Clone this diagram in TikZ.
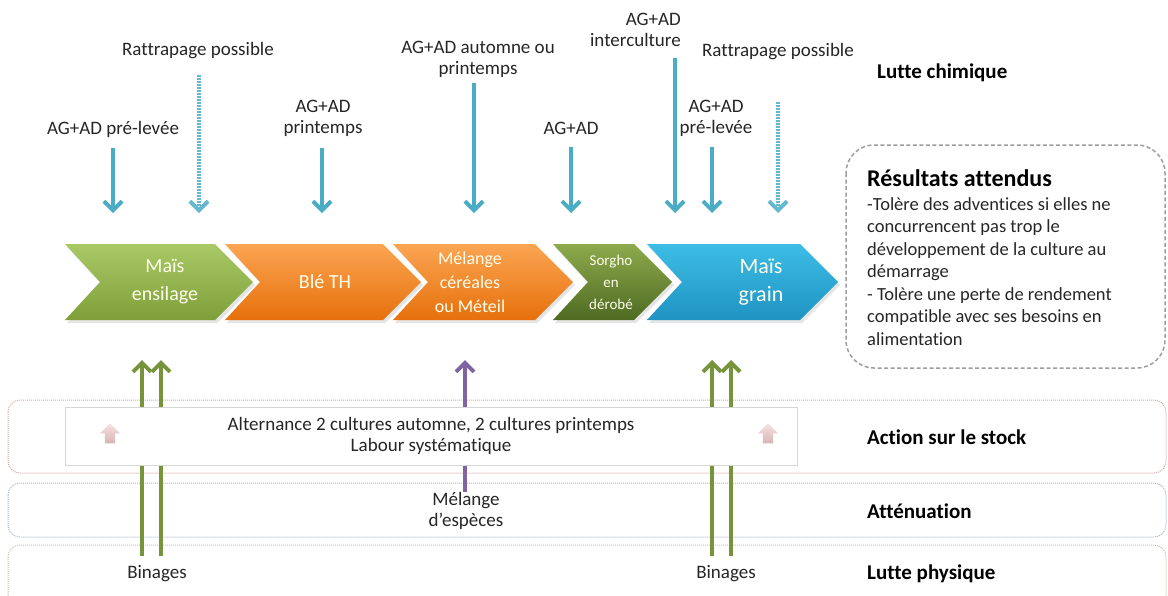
\documentclass[tikz,border=0pt]{standalone}
\usepackage{fontspec}
\setmainfont{Carlito}[RawFeature={-liga}]
\usetikzlibrary{arrows.meta,shapes.arrows}
\definecolor{bl}{HTML}{4BACC6}
\definecolor{gr}{HTML}{77933C}
\definecolor{pu}{HTML}{8064A2}
\definecolor{txt}{HTML}{262626}
\definecolor{pkA}{HTML}{F6E2E2}
\definecolor{pkB}{HTML}{D8B4B4}
\definecolor{row1}{HTML}{D6A9A9}
\definecolor{row2}{HTML}{A9B7CF}
\definecolor{row3}{HTML}{C6C6B2}
\definecolor{gA}{HTML}{A9C966}
\definecolor{gB}{HTML}{7E9F3A}
\definecolor{oA}{HTML}{FBA552}
\definecolor{oB}{HTML}{E6700C}
\definecolor{sA}{HTML}{8EAA4C}
\definecolor{sB}{HTML}{4E6A22}
\definecolor{bA}{HTML}{3DBDE6}
\definecolor{bB}{HTML}{1F93C2}
\begin{document}
\begin{tikzpicture}[x=1pt,y=-1pt,
  lbl/.style={font=\fontsize{19}{21}\selectfont, text=txt, align=center, inner sep=0pt},
  cht/.style={text=white!93!yellow, align=center, inner sep=0pt},
  hd/.style={font=\bfseries\fontsize{21}{24}\selectfont, text=black, anchor=west, inner sep=0pt},
  blarr/.style={draw=bl, line width=4pt, -{Straight Barb[length=9pt,width=18pt]}},
  bldash/.style={blarr, draw=bl!85, dash pattern=on 2pt off 1pt},
  grarr/.style={draw=gr, line width=4pt, -{Straight Barb[length=9pt,width=18pt]}},
  puarr/.style={grarr, draw=pu},
  rowbox/.style={line width=1pt, dash pattern=on 1pt off 1pt, rounded corners=12pt},
  chev/.style 2 args={insert path={(#1,244) -- (#2,244) -- ++(38,38) -- (#2,320) -- (#1,320) -- ++(35,-38) -- cycle}},
  pink/.style={single arrow, shape border rotate=90, top color=pkA, bottom color=pkB, draw=none,
    minimum height=20pt, minimum width=20pt, single arrow head extend=2pt, inner sep=2pt}
]
\useasboundingbox (0,0) rectangle (1168,595);
\fill[white] (0,0) rectangle (1168,595);

% ---- row boxes
\draw[rowbox, draw=row1] (8,400) rectangle (1166,473);
\draw[rowbox, draw=row2] (8,483) rectangle (1166,537);
\draw[rowbox, draw=row3] (8,545) rectangle (1166,625);

% ---- top labels and blue arrows
\node[lbl] (l1) at (113,129) {AG+AD pré-levée};
\node[lbl] (l2) at (198,51) {Rattrapage possible};
\node[lbl] (l3) at (323,118) {AG+AD\\printemps};
\node[lbl] (l4) at (478,59) {AG+AD automne ou\\printemps};
\node[lbl] (l5) at (571,128) {AG+AD};
\node[lbl, align=right, anchor=east] (l6) at (681,30) {AG+AD\\interculture};
\node[lbl] (l7) at (716,118) {AG+AD\\pré-levée};
\node[lbl] (l8) at (778,52) {Rattrapage possible};

\coordinate (s1) at (113,148); \coordinate (e1) at (113,213);
\coordinate (s2) at (199,75);  \coordinate (e2) at (199,213);
\coordinate (s3) at (322,148); \coordinate (e3) at (322,213);
\coordinate (s4) at (474,83);  \coordinate (e4) at (474,213);
\coordinate (s5) at (571,147); \coordinate (e5) at (571,213);
\coordinate (s6) at (675,58);  \coordinate (e6) at (675,213);
\coordinate (s7) at (712,147); \coordinate (e7) at (712,213);
\coordinate (s8) at (778,102); \coordinate (e8) at (778,213);
\draw[blarr] (s1) -- (e1);
\draw[bldash] (s2) -- (e2);
\draw[blarr] (s3) -- (e3);
\draw[blarr] (s4) -- (e4);
\draw[blarr] (s5) -- (e5);
\draw[blarr] (s6) -- (e6);
\draw[blarr] (s7) -- (e7);
\draw[bldash] (s8) -- (e8);

% ---- chevrons
\foreach \a/\b in {65/215,225/383,393/535,553/634,647/800}{
  \fill[black!10, shift={(2,3)}, chev={\a}{\b}];
}
\shade[top color=gA, bottom color=gB, chev={65}{215}];
\shade[top color=oA, bottom color=oB, chev={225}{383}];
\shade[top color=oA, bottom color=oB, chev={393}{535}];
\shade[top color=sA, bottom color=sB, chev={553}{634}];
\shade[top color=bA, bottom color=bB, chev={647}{800}];

\node[cht, font=\fontsize{20}{28}\selectfont] (c1) at (165,282) {Maïs\\ensilage};
\node[cht, font=\fontsize{20}{24}\selectfont] (c2) at (325,282) {Blé TH};
\node[cht, font=\fontsize{18}{24}\selectfont] (c3) at (470,282) {Mélange\\céréales\\ou Méteil};
\node[cht, font=\fontsize{15}{22}\selectfont] (c4) at (611,282) {Sorgho\\en\\dérobé};
\node[cht, font=\fontsize{22}{28}\selectfont] (c5) at (761,282) {Maïs\\grain};

% ---- up arrows
\coordinate (g1s) at (142,556); \coordinate (g1e) at (142,360);
\coordinate (g2s) at (161,556); \coordinate (g2e) at (161,360);
\coordinate (g3s) at (712,556); \coordinate (g3e) at (712,360);
\coordinate (g4s) at (731,556); \coordinate (g4e) at (731,360);
\coordinate (ps) at (465,492);  \coordinate (pe) at (465,360);
\draw[grarr] (g1s) -- (g1e);
\draw[grarr] (g2s) -- (g2e);
\draw[grarr] (g3s) -- (g3e);
\draw[grarr] (g4s) -- (g4e);
\draw[puarr] (ps) -- (pe);

% ---- inner box
\node[lbl, draw=black!16, line width=0.8pt, fill=white, minimum width=732pt, minimum height=58pt] (ib) at (431,436)
  {Alternance 2 cultures automne, 2 cultures printemps\\Labour systématique};
\node[pink] (pk1) at (110,436) {};
\node[pink] (pk2) at (768,436) {};

\node[lbl] (me) at (466,511) {Mélange\\d’espèces};
\node[lbl] (b1) at (157,574) {Binages};
\node[lbl] (b2) at (726,574) {Binages};

% ---- right headings
\node[hd] (h1) at (877,73) {Lutte chimique};
\node[hd] (h2) at (867,437) {Action sur le stock};
\node[hd] (h3) at (867,511) {Atténuation};
\node[hd] (h4) at (867,574) {Lutte physique};

% ---- expected results box
\draw[draw=black!38, line width=1.5pt, dash pattern=on 4pt off 2.5pt, rounded corners=28pt] (846,145) rectangle (1165,368);
\node[anchor=west, inner sep=0pt, font=\bfseries\fontsize{24}{26}\selectfont] (rt) at (867,178) {Résultats attendus};
\node[anchor=north west, inner sep=0pt, align=left, text=txt, font=\fontsize{18.5}{22.5}\selectfont] (rb) at (867,197)
  {-Tolère des adventices si elles ne\\concurrencent pas trop le\\développement de la culture au\\démarrage\\- Tolère une perte de rendement\\compatible avec ses besoins en\\alimentation};
\end{tikzpicture}
\end{document}
